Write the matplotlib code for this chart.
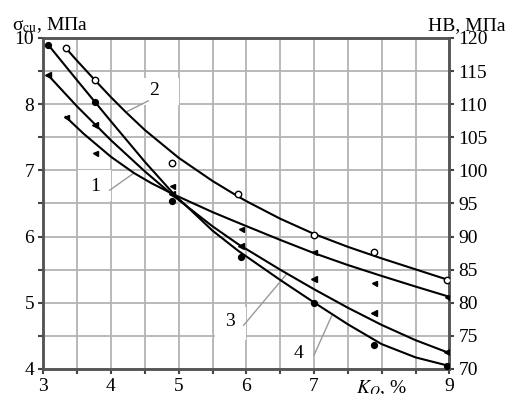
import matplotlib
matplotlib.use("Agg")
import matplotlib.pyplot as plt
from matplotlib.patches import Rectangle

plt.rcParams['font.family'] = ['Liberation Serif', 'DejaVu Serif']
plt.rcParams['mathtext.fontset'] = 'stix'
plt.rcParams['font.size'] = 14

# curves, in HB units (right axis)
x_c2 = [3.33, 3.5, 3.77, 4.0, 4.22, 4.5, 5.0, 5.5, 5.88, 6.0, 6.5, 7.0, 7.5, 8.0, 8.5, 9.0]
hb_c2 = [118.5, 116.55, 113.55, 111.05, 108.8, 106.1, 101.9, 98.4, 96.05, 95.35, 92.7, 90.4, 88.45, 86.7, 85.05, 83.4]

x_c1 = [3.33, 3.6, 4.0, 4.34, 4.6, 4.93, 5.5, 5.9, 6.5, 7.0, 7.5, 8.0, 8.5, 9.0]
hb_c1 = [108.1, 105.5, 102.05, 99.6, 98.05, 96.35, 93.7, 92.0, 89.5, 87.5, 85.7, 84.05, 82.45, 80.9]

x_c3 = [3.07, 3.5, 4.0, 4.5, 4.93, 5.5, 5.88, 6.5, 7.0, 7.5, 8.0, 8.5, 9.0]
hb_c3 = [114.4, 109.65, 104.55, 99.85, 96.1, 91.55, 88.85, 85.0, 82.05, 79.25, 76.65, 74.35, 72.4]

x_c4 = [3.07, 3.5, 4.0, 4.5, 4.93, 5.5, 5.88, 6.5, 7.0, 7.5, 8.0, 8.5, 9.0]
hb_c4 = [119.0, 113.6, 107.4, 101.3, 96.4, 90.9, 87.85, 83.45, 80.05, 76.75, 73.75, 71.75, 70.45]

# measured points
x_open = [3.33, 3.77, 4.9, 5.88, 7.0, 7.89, 8.97]
hb_open = [118.5, 113.6, 101.15, 96.5, 90.3, 87.6, 83.5]
x_fill = [3.07, 3.77, 4.9, 5.92, 7.0, 7.89, 8.97]
hb_fill = [119.0, 110.4, 95.3, 86.9, 80.0, 73.6, 70.5]
x_tri1 = [3.33, 3.77, 4.9, 5.92, 7.0, 7.89, 8.97]
hb_tri1 = [108.1, 102.6, 97.6, 91.1, 87.7, 83.0, 80.9]
x_tri3 = [3.07, 3.77, 4.9, 5.92, 7.0, 7.89, 8.97]
hb_tri3 = [114.4, 106.85, 96.4, 88.6, 83.6, 78.5, 72.5]

x_ticks = [3, 3.5, 4, 4.5, 5, 5.5, 6, 6.5, 7, 7.5, 8, 8.5, 9]
x_labels = ['3', '', '4', '', '5', '', '6', '', '7', '', '$K_O$, %', '', '9']
sig_ticks = [4, 4.5, 5, 5.5, 6, 6.5, 7, 7.5, 8, 8.5, 9]
sig_labels = ['4', '', '5', '', '6', '', '7', '', '8', '', '10']
hb_ticks = [70, 75, 80, 85, 90, 95, 100, 105, 110, 115, 120]

fig = plt.figure(figsize=(5.13, 3.94), dpi=100)
ax = fig.add_axes([0.0844, 0.0635, 0.7916, 0.8401])
ax.set_xlim(3, 9)
ax.set_ylim(4, 9)
ax.set_xticks(x_ticks)
ax.set_xticklabels(x_labels)
ax.set_yticks(sig_ticks)
ax.set_yticklabels(sig_labels)
ax.grid(True, color='#b3b3b3', lw=1.3)
ax.tick_params(direction='out', length=3.5, width=1.5, color='#444444', pad=3)
ax.tick_params(axis='x', pad=3)

ax2 = ax.twinx()
ax2.set_ylim(70, 120)
ax2.set_yticks(hb_ticks)
ax2.tick_params(direction='out', length=3.5, width=1.5, color='#444444', pad=3)
for a in (ax, ax2):
    for s in a.spines.values():
        s.set_color('#555555')
        s.set_linewidth(1.8)

# white boxes behind the curve numbers
boxes = [(4.47, 109.9, 0.53, 4.0), (3.51, 95.3, 0.49, 4.7),
         (5.54, 74.4, 0.46, 5.0), (6.52, 70.8, 0.46, 3.9)]
for bx, by, bw, bh in boxes:
    ax2.add_patch(Rectangle((bx, by), bw, bh, facecolor='white', edgecolor='none', zorder=1))

for xs, ys in [(x_c2, hb_c2), (x_c1, hb_c1), (x_c3, hb_c3), (x_c4, hb_c4)]:
    ax2.plot(xs, ys, color='black', lw=1.5, solid_capstyle='round',
             solid_joinstyle='round', zorder=3)

ax2.plot(x_open, hb_open, 'o', ms=4.6, mfc='white', mec='black', mew=1.0, zorder=4)
ax2.plot(x_fill, hb_fill, 'o', ms=4.2, color='black', zorder=4)
ax2.plot(x_tri1, hb_tri1, '<', ms=3.6, color='black', zorder=4)
ax2.plot(x_tri3, hb_tri3, '<', ms=4.0, color='black', zorder=4)

# curve numbers with leader lines
labels = [('2', 4.63, 112.0, [4.55, 4.22], [110.5, 108.8]),
          ('1', 3.76, 97.5, [3.98, 4.34], [97.0, 99.6]),
          ('3', 5.76, 77.1, [5.96, 6.6], [76.6, 84.4]),
          ('4', 6.77, 72.4, [7.0, 7.26], [72.1, 78.0])]
for txt, tx, ty, lx, ly in labels:
    ax2.plot(lx, ly, color='#9a9a9a', lw=1.0, zorder=2)
    ax2.text(tx, ty, txt, ha='center', va='center', fontsize=14, zorder=5)

fig.text(12 / 513, 1 - 30 / 394, 'σ$_{\\mathrm{cu}}$, МПа', fontsize=14, va='baseline', ha='left')
fig.text(428 / 513, 1 - 30 / 394, 'НВ, МПа', fontsize=14, va='baseline', ha='left')

fig.savefig('out.png', dpi=100)
